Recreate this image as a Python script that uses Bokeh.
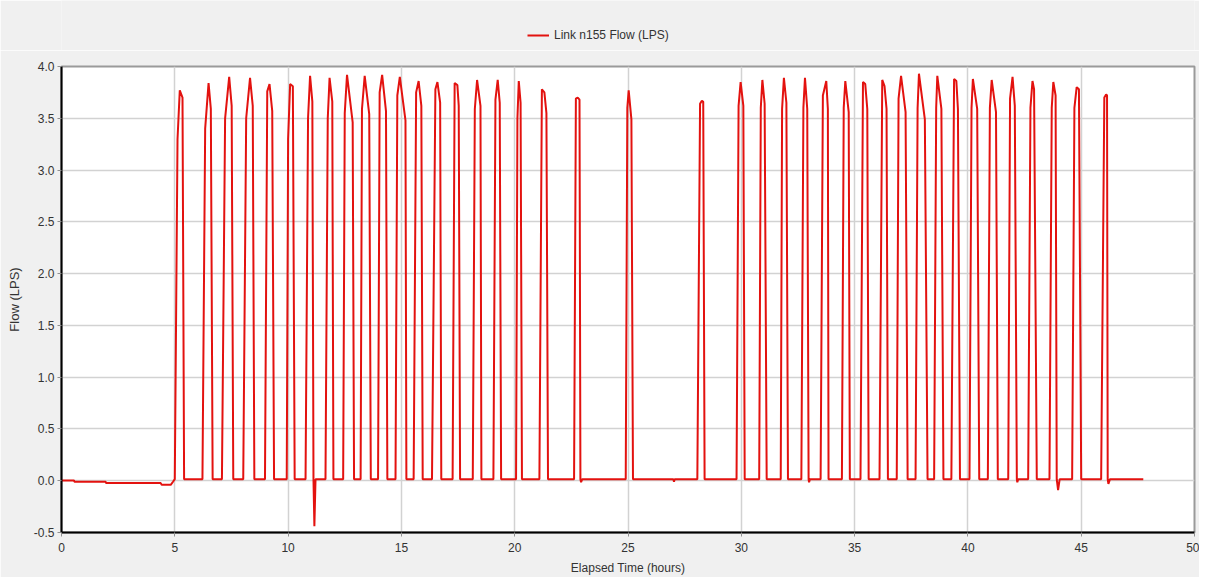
from bokeh.plotting import figure
from bokeh.layouts import column
from bokeh.models import (Legend, LegendItem, FixedTicker, NumeralTickFormatter,
                          ColumnDataSource, Range1d)
from bokeh.embed import file_html
from bokeh.resources import INLINE

# ---------------- data ----------------
series_name = "Link n155 Flow (LPS)"
idle_flow = 0.015

# baseline before the first pulse
pre_t = [0.0, 0.55, 0.57, 1.95, 1.97, 4.38, 4.42, 4.82, 4.92]
pre_v = [0.003, 0.003, -0.010, -0.010, -0.023, -0.023, -0.040, -0.040, -0.010]

# pump pulses: switch-on time, rising point, top point, tail point, switch-off time
pulse_on = [5.00, 6.22, 7.08, 8.02, 8.98, 9.94, 10.77, 11.65, 12.43, 13.20, 13.97,
            14.74, 15.54, 16.35, 17.26, 18.15, 19.06, 20.06, 21.09, 22.62, 24.90,
            28.06, 29.79, 30.79, 31.74, 32.65, 33.50, 34.44, 35.26, 36.10, 36.86,
            37.69, 38.51, 39.27, 40.07, 40.88, 41.78, 42.66, 43.60, 44.60, 45.88]
rise_t = [5.12, 6.34, 7.22, 8.15, 9.08, 10.00, 10.88, 11.75, 12.50, 13.26, 14.04,
          14.82, 15.65, 16.50, 17.35, 18.24, 19.15, 20.12, 21.20, 22.70, 24.97,
          28.18, 29.88, 30.86, 31.80, 32.74, 33.60, 34.52, 35.37, 36.22, 36.94,
          37.78, 38.60, 39.39, 40.16, 40.97, 41.86, 42.76, 43.70, 44.70, 46.02]
rise_v = [3.30, 3.40, 3.50, 3.50, 3.76, 3.30, 3.50, 3.50, 3.55, 3.59, 3.75,
          3.72, 3.75, 3.78, 3.84, 3.59, 3.68, 3.50, 3.78, 3.69, 3.60,
          3.64, 3.62, 3.60, 3.59, 3.60, 3.72, 3.60, 3.85, 3.87, 3.69,
          3.60, 3.60, 3.88, 3.60, 3.60, 3.69, 3.60, 3.60, 3.60, 3.70]
top_t = [5.22, 6.49, 7.40, 8.32, 9.18, 10.09, 10.97, 11.83, 12.60, 13.38, 14.15,
         14.93, 15.76, 16.59, 17.47, 18.34, 19.25, 20.18, 21.31, 22.78, 25.03,
         28.26, 29.97, 30.93, 31.88, 32.81, 33.75, 34.59, 35.47, 36.32, 37.05,
         37.84, 38.65, 39.49, 40.22, 41.05, 41.97, 42.85, 43.77, 44.80, 46.10]
top_v = [3.77, 3.84, 3.90, 3.89, 3.83, 3.83, 3.91, 3.89, 3.92, 3.91, 3.92,
         3.90, 3.86, 3.85, 3.82, 3.87, 3.87, 3.86, 3.75, 3.70, 3.77,
         3.67, 3.85, 3.87, 3.89, 3.89, 3.86, 3.86, 3.83, 3.81, 3.91,
         3.93, 3.91, 3.86, 3.88, 3.87, 3.90, 3.86, 3.85, 3.80, 3.73]
tail_t = [5.34, 6.59, 7.51, 8.44, 9.30, 10.21, 11.07, 11.95, 12.85, 13.58, 14.32,
          15.18, 15.88, 16.71, 17.53, 18.49, 19.34, 20.26, 21.40, 22.86, 25.15,
          28.32, 30.09, 31.03, 31.99, 32.91, 33.82, 34.74, 35.56, 36.41, 37.25,
          38.10, 38.83, 39.56, 40.41, 41.24, 42.07, 42.92, 43.87, 44.90, 46.14]
tail_v = [3.70, 3.59, 3.62, 3.62, 3.57, 3.81, 3.66, 3.66, 3.46, 3.54, 3.57,
          3.48, 3.62, 3.65, 3.62, 3.62, 3.65, 3.65, 3.55, 3.68, 3.49,
          3.66, 3.62, 3.64, 3.65, 3.59, 3.59, 3.56, 3.59, 3.59, 3.56,
          3.49, 3.59, 3.59, 3.59, 3.56, 3.62, 3.78, 3.72, 3.78, 3.72]
pulse_off = [5.41, 6.67, 7.58, 8.51, 9.38, 10.29, 11.12, 12.00, 12.91, 13.65, 14.38,
             15.22, 15.94, 16.76, 17.59, 18.53, 19.40, 20.32, 21.47, 22.90, 25.22,
             28.38, 30.15, 31.12, 32.06, 32.97, 33.85, 34.79, 35.62, 36.47, 37.34,
             38.22, 38.92, 39.65, 40.50, 41.32, 42.16, 43.04, 43.92, 45.00, 46.17]

# short negative transients after some pulses (with the idle points around them)
dip_t = [11.16, 11.21, 22.93, 22.98, 27.00, 27.03, 27.06, 32.99, 33.03,
         42.18, 42.22, 43.98, 44.05, 46.20, 46.27]
dip_v = [-0.44, 0.015, -0.015, 0.015, 0.015, -0.010, 0.015, -0.015, 0.015,
         -0.015, 0.015, -0.09, 0.015, -0.03, 0.015]

end_t = [47.74]
end_v = [0.015]

x_ticks = [0, 5, 10, 15, 20, 25, 30, 35, 40, 45, 50]
y_ticks = [-0.5, 0.0, 0.5, 1.0, 1.5, 2.0, 2.5, 3.0, 3.5, 4.0]

# ---------------- assemble the series ----------------
pts = list(zip(pre_t, pre_v))
for i in range(len(pulse_on)):
    pts += [(pulse_on[i], idle_flow), (rise_t[i], rise_v[i]), (top_t[i], top_v[i]),
            (tail_t[i], tail_v[i]), (pulse_off[i], idle_flow)]
pts += list(zip(dip_t, dip_v))
pts += list(zip(end_t, end_v))
pts.sort(key=lambda q: q[0])
src = ColumnDataSource(data=dict(t=[q[0] for q in pts], flow=[q[1] for q in pts]))

# ---------------- styling constants ----------------
NARROW = "'Liberation Sans Narrow', 'Arial Narrow', 'Liberation Sans', sans-serif"
REG = "'Liberation Sans', Arial, sans-serif"
PANEL = "#f0f0f0"
RED = "#e3120f"

# ---------------- legend strip (above the chart) ----------------
lg = figure(width=1199, height=50, output_backend="svg", toolbar_location=None,
            x_range=Range1d(0, 1), y_range=Range1d(0, 1),
            min_border=0, min_border_left=0, min_border_right=0,
            min_border_top=0, min_border_bottom=0)
lg.axis.visible = False
lg.grid.visible = False
lg.outline_line_color = None
lg.background_fill_color = PANEL
lg.border_fill_color = PANEL
# a hidden renderer (outside the strip's range) that only supplies the legend swatch
legend_src = ColumnDataSource(data=dict(x=[-5.0, -4.0], y=[-5.0, -4.0]))
swatch = lg.line("x", "y", source=legend_src, line_color=RED, line_width=2)
lg.add_layout(Legend(items=[LegendItem(label=series_name, renderers=[swatch])],
                     location=(466, 8), orientation="horizontal",
                     background_fill_alpha=0, border_line_color=None,
                     label_text_font=NARROW, label_text_font_size="12px",
                     label_text_color="#333333",
                     glyph_width=22, glyph_height=12, label_height=12,
                     padding=4, margin=0, spacing=0))

# ---------------- main chart ----------------
p = figure(width=1199, height=527, output_backend="svg", toolbar_location=None,
           x_range=Range1d(0, 50), y_range=Range1d(-0.5, 4.0),
           min_border_left=61, min_border_right=5, min_border_top=16,
           min_border_bottom=45)
p.border_fill_color = PANEL
p.background_fill_color = "#ffffff"
p.outline_line_color = "#9a9a9a"
p.outline_line_width = 2

r = p.line("t", "flow", source=src, line_color=RED, line_width=2)

p.xaxis.ticker = FixedTicker(ticks=x_ticks)
p.yaxis.ticker = FixedTicker(ticks=y_ticks)
p.yaxis.formatter = NumeralTickFormatter(format="0.0")
p.xaxis.formatter = NumeralTickFormatter(format="0")
for ax in (p.xaxis, p.yaxis):
    ax.axis_line_color = "#000000"
    ax.axis_line_width = 2
    ax.major_tick_line_color = "#909090"
    ax.major_tick_out = 4
    ax.major_tick_in = 0
    ax.minor_tick_line_color = None
    ax.major_label_text_color = "#333333"
    ax.major_label_text_font_size = "12px"
    ax.axis_label_text_font_size = "12px"
    ax.axis_label_text_font_style = "normal"
    ax.axis_label_text_color = "#333333"
    ax.major_label_standoff = 3

p.xaxis.axis_label = "Elapsed Time (hours)"
p.xaxis.major_label_text_font = NARROW
p.xaxis.axis_label_text_font = NARROW
p.xaxis.major_label_standoff = 6
p.xaxis.axis_label_standoff = 6
p.yaxis.axis_label = "Flow (LPS)"
p.yaxis.axis_label_text_font_size = "13px"
p.yaxis.major_label_text_font = REG
p.yaxis.axis_label_text_font = REG
p.yaxis.axis_label_standoff = 9

p.xgrid.grid_line_color = "#d2d2d2"
p.ygrid.grid_line_color = "#d2d2d2"
p.xgrid.grid_line_width = 1.5
p.ygrid.grid_line_width = 1.5

layout = column(lg, p, spacing=0)
open("out.html", "w").write(file_html(layout, INLINE))
